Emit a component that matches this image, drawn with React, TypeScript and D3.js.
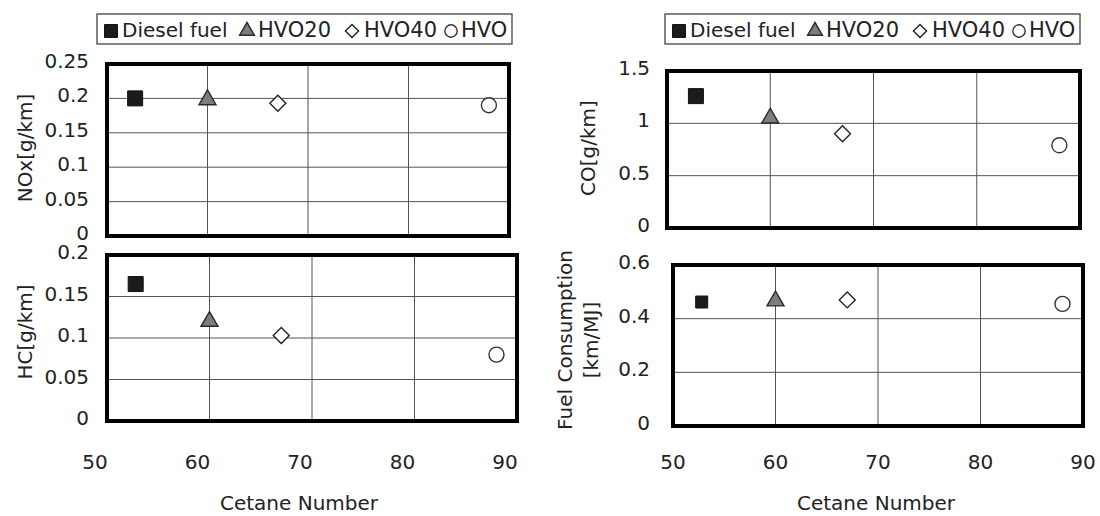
import { useEffect, useRef } from 'react'
import * as d3 from 'd3'

// values
const fuels = ['Diesel fuel', 'HVO20', 'HVO40', 'HVO']
const cetane = [52.8, 60, 67, 88]
const noxValues = [0.2, 0.198, 0.193, 0.19]
const hcValues = [0.165, 0.12, 0.103, 0.08]
const coValues = [1.26, 1.05, 0.9, 0.79]
const fcValues = [0.462, 0.466, 0.47, 0.455]

const cetaneTicks = [50, 60, 70, 80, 90]
const noxTicks = [0, 0.05, 0.1, 0.15, 0.2, 0.25]
const hcTicks = [0, 0.05, 0.1, 0.15, 0.2]
const coTicks = [0, 0.5, 1, 1.5]
const fcTicks = [0, 0.2, 0.4, 0.6]

const W = 1100
const H = 516
const FONT = '"DejaVu Sans", sans-serif'
const TEXT = '#222'

const symbols = [d3.symbolSquare, d3.symbolTriangle, d3.symbolDiamond2, d3.symbolCircle]
const fills = ['#1b1b1b', '#7d7d7d', '#fff', '#fff']
const strokes = ['#111', '#2a2a2a', '#222', '#333']
const plotSizes = [225, 125, 163, 177]
const legendSizes = [169, 95, 110, 120]

function marker(g: any, i: number, x: number, y: number, size: number) {
    g.append('path')
        .attr('d', d3.symbol().type(symbols[i]).size(size)())
        .attr('transform', `translate(${x},${y})`)
        .attr('fill', fills[i])
        .attr('stroke', strokes[i])
        .attr('stroke-width', i === 0 ? 1 : 1.4)
}

function drawLegend(svg: any, left: number) {
    // item offsets inside the box: marker centre, text start
    const offs = [[14, 25], [150, 161], [255, 267], [354, 364]]
    const g = svg.append('g')
    g.append('rect')
        .attr('x', left).attr('y', 14)
        .attr('width', 415).attr('height', 30)
        .attr('fill', '#fff').attr('stroke', '#333').attr('stroke-width', 1.2)
    fuels.forEach((f, i) => {
        marker(g, i, left + offs[i][0], 31, legendSizes[i])
        g.append('text')
            .attr('x', left + offs[i][1]).attr('y', 37)
            .attr('font-size', i === 0 ? 20 : 21)
            .text(f)
    })
}

function drawPanel(svg: any, p: any) {
    const x = d3.scaleLinear().domain([50, 90]).range([p.x0, p.x1])
    const y = d3.scaleLinear().domain([0, p.ticks[p.ticks.length - 1]]).range([p.y1, p.y0])
    const g = svg.append('g')

    // grid
    g.selectAll('.vg').data(cetaneTicks.slice(1, -1)).enter().append('line')
        .attr('x1', (d: number) => x(d)).attr('x2', (d: number) => x(d))
        .attr('y1', p.y0).attr('y2', p.y1)
        .attr('stroke', '#555').attr('stroke-width', 1)
    g.selectAll('.hg').data(p.ticks.slice(1, -1)).enter().append('line')
        .attr('x1', p.x0).attr('x2', p.x1)
        .attr('y1', (d: number) => y(d)).attr('y2', (d: number) => y(d))
        .attr('stroke', '#555').attr('stroke-width', 1)

    // frame
    g.append('rect')
        .attr('x', p.x0).attr('y', p.y0)
        .attr('width', p.x1 - p.x0).attr('height', p.y1 - p.y0)
        .attr('fill', 'none').attr('stroke', '#000').attr('stroke-width', 4)

    // y tick labels
    g.selectAll('.yt').data(p.ticks).enter().append('text')
        .attr('x', p.labelX).attr('y', (d: number) => y(d) - 3)
        .attr('text-anchor', 'end').attr('dominant-baseline', 'central')
        .attr('font-size', 20)
        .text((d: number) => String(+d.toFixed(2)))

    // x tick labels + title on the lower panels
    if (p.xAxis) {
        g.selectAll('.xt').data(cetaneTicks).enter().append('text')
            .attr('x', (d: number) => x(d) + p.xdx).attr('y', 469)
            .attr('text-anchor', 'middle').attr('font-size', 20)
            .text((d: number) => d)
        g.append('text')
            .attr('x', p.titleX).attr('y', 510)
            .attr('text-anchor', 'middle').attr('font-size', 20)
            .text('Cetane Number')
    }

    // y title(s)
    p.yTitle.forEach((t: string, k: number) => {
        g.append('text')
            .attr('transform', `translate(${p.yTitleX[k]},${p.yTitleY}) rotate(-90)`)
            .attr('text-anchor', 'middle').attr('dominant-baseline', 'central')
            .attr('font-size', 20)
            .text(t)
    })

    // points
    p.values.forEach((v: number, i: number) => {
        const s = i === 0 && p.smallSquare ? 144 : plotSizes[i]
        marker(g, i, x(cetane[i]), y(v), s)
    })
}

export default function App() {
    const ref = useRef<SVGSVGElement>(null)

    useEffect(() => {
        const svg = d3.select(ref.current)
        svg.selectAll('*').remove()
        svg.attr('font-family', FONT).attr('fill', TEXT)

        const panels = [
            {values: noxValues, ticks: noxTicks, x0: 107, x1: 509, y0: 64, y1: 236, labelX: 89,
                yTitle: ['NOx[g/km]'], yTitleX: [25], yTitleY: 148},
            {values: hcValues, ticks: hcTicks, x0: 107, x1: 517, y0: 255, y1: 421, labelX: 89,
                yTitle: ['HC[g/km]'], yTitleX: [25], yTitleY: 332, xAxis: true, xdx: -12, titleX: 299},
            {values: coValues, ticks: coTicks, x0: 667, x1: 1080, y0: 71, y1: 228, labelX: 650,
                yTitle: ['CO[g/km]'], yTitleX: [588], yTitleY: 148},
            {values: fcValues, ticks: fcTicks, x0: 673, x1: 1083, y0: 265, y1: 426, labelX: 650,
                yTitle: ['Fuel Consumption', '[km/MJ]'], yTitleX: [565, 591], yTitleY: 340,
                xAxis: true, xdx: 0, titleX: 876, smallSquare: true},
        ]
        panels.forEach(p => drawPanel(svg, p))
        drawLegend(svg, 97)
        drawLegend(svg, 665)
    }, [])

    return (
        <svg ref={ref} width={W} height={H}
             style={{position: 'absolute', left: 0, top: 0, background: '#fff'}}/>
    )
}
